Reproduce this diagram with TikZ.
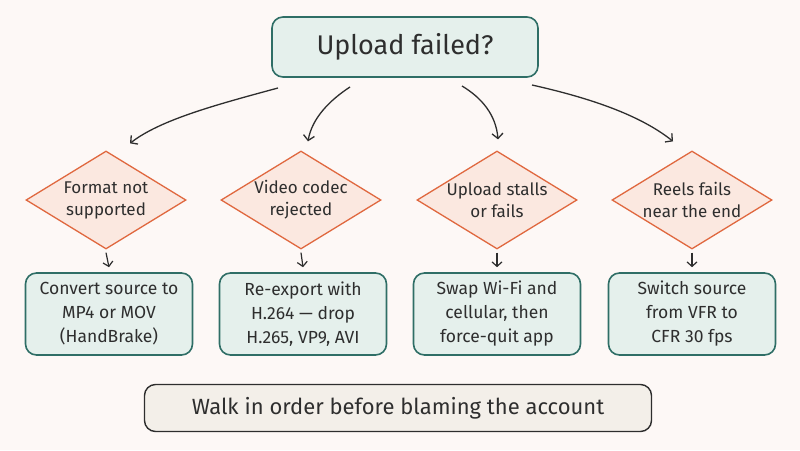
\documentclass[tikz,border=0pt]{standalone}
\usepackage{fontspec}
\setmainfont{Fira Sans}
\usetikzlibrary{shapes.geometric,arrows.meta}
\definecolor{bg}{HTML}{FDF8F6}
\definecolor{tealfill}{HTML}{E5F0EC}
\definecolor{tealline}{HTML}{2F6E66}
\definecolor{orfill}{HTML}{FBE8E0}
\definecolor{orline}{HTML}{E0683F}
\definecolor{notefill}{HTML}{F3EFE9}
\definecolor{ink}{HTML}{2E2E2E}
\tikzset{
  titlebox/.style={draw=tealline, fill=tealfill, line width=1.6pt, rounded corners=11pt,
    minimum width=266pt, minimum height=60pt, font=\fontsize{27}{32}\selectfont, text=ink},
  decis/.style={diamond, draw=orline, fill=orfill, line width=1.3pt, inner sep=0pt,
    minimum width=160pt, minimum height=98pt},
  dtext/.style={align=center, inner sep=0pt, font=\fontsize{17}{22}\selectfont, text=ink},
  actbox/.style={draw=tealline, fill=tealfill, line width=1.6pt, rounded corners=11pt,
    minimum width=167pt, minimum height=82pt, align=center,
    font=\fontsize{17.5}{24}\selectfont, text=ink},
  notebox/.style={draw=ink, fill=notefill, line width=1.4pt, rounded corners=11pt,
    minimum width=507pt, minimum height=47pt, font=\fontsize{22}{26}\selectfont, text=ink},
  conn/.style={draw=ink, line width=1.3pt, -{Straight Barb[length=5pt,width=11pt]}},
  shortarr/.style={draw=ink, line width=1.2pt, -{Straight Barb[length=4.5pt,width=10pt]}}
}
\begin{document}
\begin{tikzpicture}[x=1pt,y=-1pt]
\fill[bg] (0,0) rectangle (800,450);
\useasboundingbox (0,0) rectangle (800,450);

\node[titlebox] (top) at (405,47) {Upload failed?};

\node[decis] (d1) at (106,200) {};
\node[decis] (d2) at (301,200) {};
\node[decis] (d3) at (497,200) {};
\node[decis] (d4) at (692,200) {};
\node[dtext] (t1) at (d1) {Format not\\supported};
\node[dtext] (t2) at (d2) {Video codec\\rejected};
\node[dtext] (t3) at (d3) {Upload stalls\\or fails};
\node[dtext] (t4) at (d4) {Reels fails\\near the end};

\node[actbox] (b1) at (109,314) {Convert source to\\MP4 or MOV\\(HandBrake)};
\node[actbox] (b2) at (303,314) {Re-export with\\H.264 — drop\\H.265, VP9, AVI};
\node[actbox] (b3) at (497,314) {Swap Wi-Fi and\\cellular, then\\force-quit app};
\node[actbox] (b4) at (692,314) {Switch source\\from VFR to\\CFR 30 fps};

\node[notebox] (note) at (398,408) {Walk in order before blaming the account};

\coordinate (s1) at (278,88);
\coordinate (s2) at (350,87);
\coordinate (s3) at (462,86);
\coordinate (s4) at (532,85);
\draw[conn] (s1) .. controls (215,105) and (160,120) .. ([xshift=24pt,yshift=7pt]d1.north);
\draw[conn] (s2) .. controls (330,100) and (312,118) .. ([xshift=7pt,yshift=9pt]d2.north);
\draw[conn] (s3) .. controls (482,98) and (496,115) .. ([xshift=1pt,yshift=11pt]d3.north);
\draw[conn] (s4) .. controls (590,98) and (640,115) .. ([xshift=-19pt,yshift=9pt]d4.north);

\foreach \i in {1,2,3,4}{
  \draw[shortarr] ([yshift=-3pt]d\i.south) -- ([yshift=5pt]b\i.north);
}
\end{tikzpicture}
\end{document}
